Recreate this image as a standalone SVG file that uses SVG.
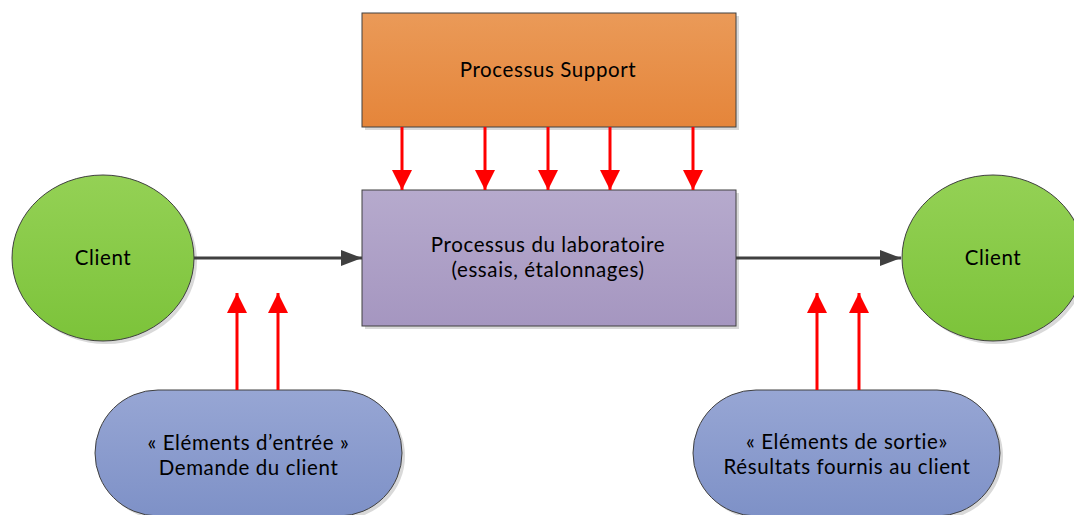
<svg xmlns="http://www.w3.org/2000/svg" width="1074" height="515" viewBox="0 0 1074 515">
<defs>
<linearGradient id="gOr" x1="0" y1="0" x2="0" y2="1"><stop offset="0" stop-color="#EA9A58"/><stop offset="1" stop-color="#E5853A"/></linearGradient>
<linearGradient id="gPu" x1="0" y1="0" x2="0" y2="1"><stop offset="0" stop-color="#B6AACD"/><stop offset="1" stop-color="#A596C0"/></linearGradient>
<linearGradient id="gGr" x1="0" y1="0" x2="0" y2="1"><stop offset="0" stop-color="#94D155"/><stop offset="1" stop-color="#7CC33A"/></linearGradient>
<linearGradient id="gBl" x1="0" y1="0" x2="0" y2="1"><stop offset="0" stop-color="#97A6D4"/><stop offset="1" stop-color="#7E91C7"/></linearGradient>
<marker id="mRed" markerUnits="userSpaceOnUse" markerWidth="22" markerHeight="20" refX="20" refY="10" orient="auto"><path d="M0,0 L20,10 L0,20 Z" fill="#FF0000"/></marker>
<marker id="mGray" markerUnits="userSpaceOnUse" markerWidth="22" markerHeight="18" refX="21" refY="8" orient="auto"><path d="M0,0 L21,8 L0,16 Z" fill="#404040"/></marker>
</defs>
<style>
.node{stroke:#404040;stroke-width:1}
.sh{fill:#D9D9D9}
.t{font-family:Lato,"Open Sans","Liberation Sans",sans-serif;font-size:20.5px;letter-spacing:0.6px;fill:#000;text-anchor:middle}
.red{stroke:#FF0000;stroke-width:3;fill:none}
.gray{stroke:#404040;stroke-width:3;fill:none}
</style>
<g id="support">
<rect class="sh" x="365" y="16" width="374" height="114"/>
<rect class="node" x="362" y="13" width="374" height="114" fill="url(#gOr)"/>
<text class="t" x="548" y="77">Processus Support</text>
</g>
<g id="labo">
<rect class="sh" x="365" y="193" width="374" height="136"/>
<rect class="node" x="362" y="190" width="374" height="136" fill="url(#gPu)"/>
<text class="t" x="548" y="252">Processus du laboratoire</text>
<text class="t" x="548" y="277">(essais, étalonnages)</text>
</g>
<g id="client-left">
<ellipse class="sh" cx="106" cy="261" rx="91" ry="83"/>
<ellipse class="node" cx="103" cy="258" rx="91" ry="83" fill="url(#gGr)"/>
<text class="t" x="103" y="265">Client</text>
</g>
<g id="client-right">
<ellipse class="sh" cx="996" cy="261" rx="91" ry="83"/>
<ellipse class="node" cx="993" cy="258" rx="91" ry="83" fill="url(#gGr)"/>
<text class="t" x="993" y="265">Client</text>
</g>
<g id="entree">
<rect class="sh" x="98" y="393" width="307" height="126" rx="63" ry="63"/>
<rect class="node" x="95" y="390" width="307" height="126" rx="63" ry="63" fill="url(#gBl)"/>
<text class="t" x="248.5" y="450">« Eléments d’entrée »</text>
<text class="t" x="248.5" y="475">Demande du client</text>
</g>
<g id="sortie">
<rect class="sh" x="696" y="393" width="307" height="126" rx="63" ry="63"/>
<rect class="node" x="693" y="390" width="307" height="126" rx="63" ry="63" fill="url(#gBl)"/>
<text class="t" x="847" y="449">« Eléments de sortie»</text>
<text class="t" x="847" y="474">Résultats fournis au client</text>
</g>
<g id="connectors">
<line class="red" x1="402" y1="127" x2="402" y2="190" marker-end="url(#mRed)"/>
<line class="red" x1="485" y1="127" x2="485" y2="190" marker-end="url(#mRed)"/>
<line class="red" x1="548" y1="127" x2="548" y2="190" marker-end="url(#mRed)"/>
<line class="red" x1="610" y1="127" x2="610" y2="190" marker-end="url(#mRed)"/>
<line class="red" x1="693" y1="127" x2="693" y2="190" marker-end="url(#mRed)"/>
<line class="gray" x1="194" y1="258" x2="362" y2="258" marker-end="url(#mGray)"/>
<line class="gray" x1="736" y1="258" x2="901" y2="258" marker-end="url(#mGray)"/>
<line class="red" x1="237" y1="390" x2="237" y2="293" marker-end="url(#mRed)"/>
<line class="red" x1="278" y1="390" x2="278" y2="293" marker-end="url(#mRed)"/>
<line class="red" x1="817" y1="390" x2="817" y2="293" marker-end="url(#mRed)"/>
<line class="red" x1="859" y1="390" x2="859" y2="293" marker-end="url(#mRed)"/>
</g>
</svg>
